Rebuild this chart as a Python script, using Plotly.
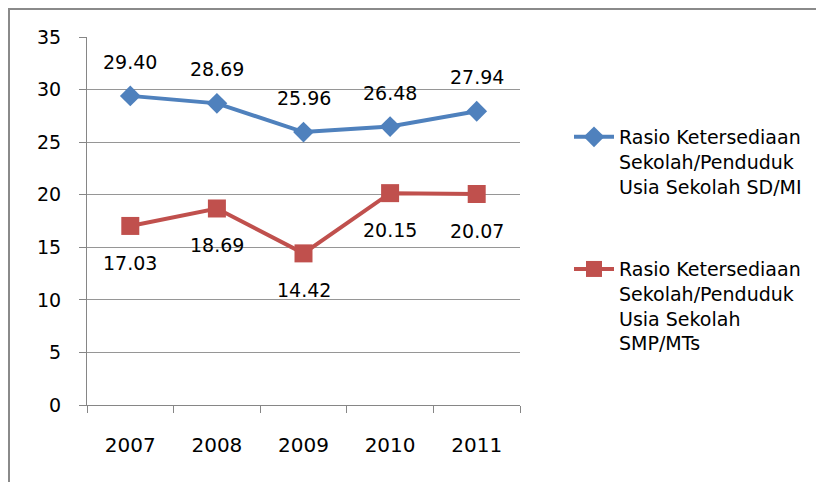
import plotly.graph_objects as go

years = ["2007", "2008", "2009", "2010", "2011"]
sd_mi = [29.40, 28.69, 25.96, 26.48, 27.94]
smp_mts = [17.03, 18.69, 14.42, 20.15, 20.07]
name_sd = "Rasio Ketersediaan<br>Sekolah/Penduduk<br>Usia Sekolah SD/MI"
name_smp = "Rasio Ketersediaan<br>Sekolah/Penduduk<br>Usia Sekolah<br>SMP/MTs"

BLUE = "#4F81BD"
RED = "#C0504D"
FONT = "DejaVu Sans"

fig = go.Figure()
fig.add_trace(go.Scatter(
    x=years, y=sd_mi, mode="lines+markers", name=name_sd,
    line=dict(color=BLUE, width=4),
    marker=dict(symbol="diamond", size=16, color=BLUE),
    legendgroup="a",
))
fig.add_trace(go.Scatter(
    x=years, y=smp_mts, mode="lines+markers", name=name_smp,
    line=dict(color=RED, width=4),
    marker=dict(symbol="square", size=18, color=RED),
    legendgroup="b",
))

for i, y in enumerate(sd_mi):
    fig.add_annotation(x=i, y=y, text=f"{y:.2f}", showarrow=False,
                       yshift=34, font=dict(family=FONT, size=19, color="#000"))
for i, y in enumerate(smp_mts):
    fig.add_annotation(x=i, y=y, text=f"{y:.2f}", showarrow=False,
                       yshift=-37, font=dict(family=FONT, size=19, color="#000"))

# outer chart frame
fig.add_shape(type="rect", xref="paper", yref="paper",
              x0=(1 - 79) / 433, x1=(840 - 79) / 433,
              y0=-0.3, y1=(397 - 1) / 368,
              line=dict(color="#8a8a8a", width=2), fillcolor="rgba(0,0,0,0)",
              layer="below")

fig.update_layout(
    width=816, height=474,
    margin=dict(l=79, r=304, t=29, b=77),
    paper_bgcolor="white", plot_bgcolor="white",
    font=dict(family=FONT, size=19, color="#000"),
    showlegend=True,
    legend=dict(
        x=(561 - 79) / 433, xanchor="left", y=(397 - 110) / 368, yanchor="top",
        font=dict(family=FONT, size=19, color="#000"),
        valign="top", traceorder="grouped", tracegroupgap=55,
        itemwidth=40, bgcolor="rgba(0,0,0,0)",
    ),
    xaxis=dict(
        type="category", range=[-0.5, 4.5],
        showgrid=False, showline=True, linecolor="#868686", linewidth=1,
        ticks="outside", tickson="boundaries", ticklen=7, tickcolor="#868686",
        ticklabelstandoff=22,
        tickfont=dict(family=FONT, size=20, color="#000"),
    ),
    yaxis=dict(
        range=[0, 35], dtick=5, tick0=0,
        showgrid=True, gridcolor="#969696", gridwidth=1,
        showline=True, linecolor="#868686", linewidth=1,
        ticks="outside", ticklen=7, tickcolor="#868686",
        ticklabelstandoff=14,
        zeroline=False,
        tickfont=dict(family=FONT, size=19, color="#000"),
    ),
)

fig.write_html("out.html")
